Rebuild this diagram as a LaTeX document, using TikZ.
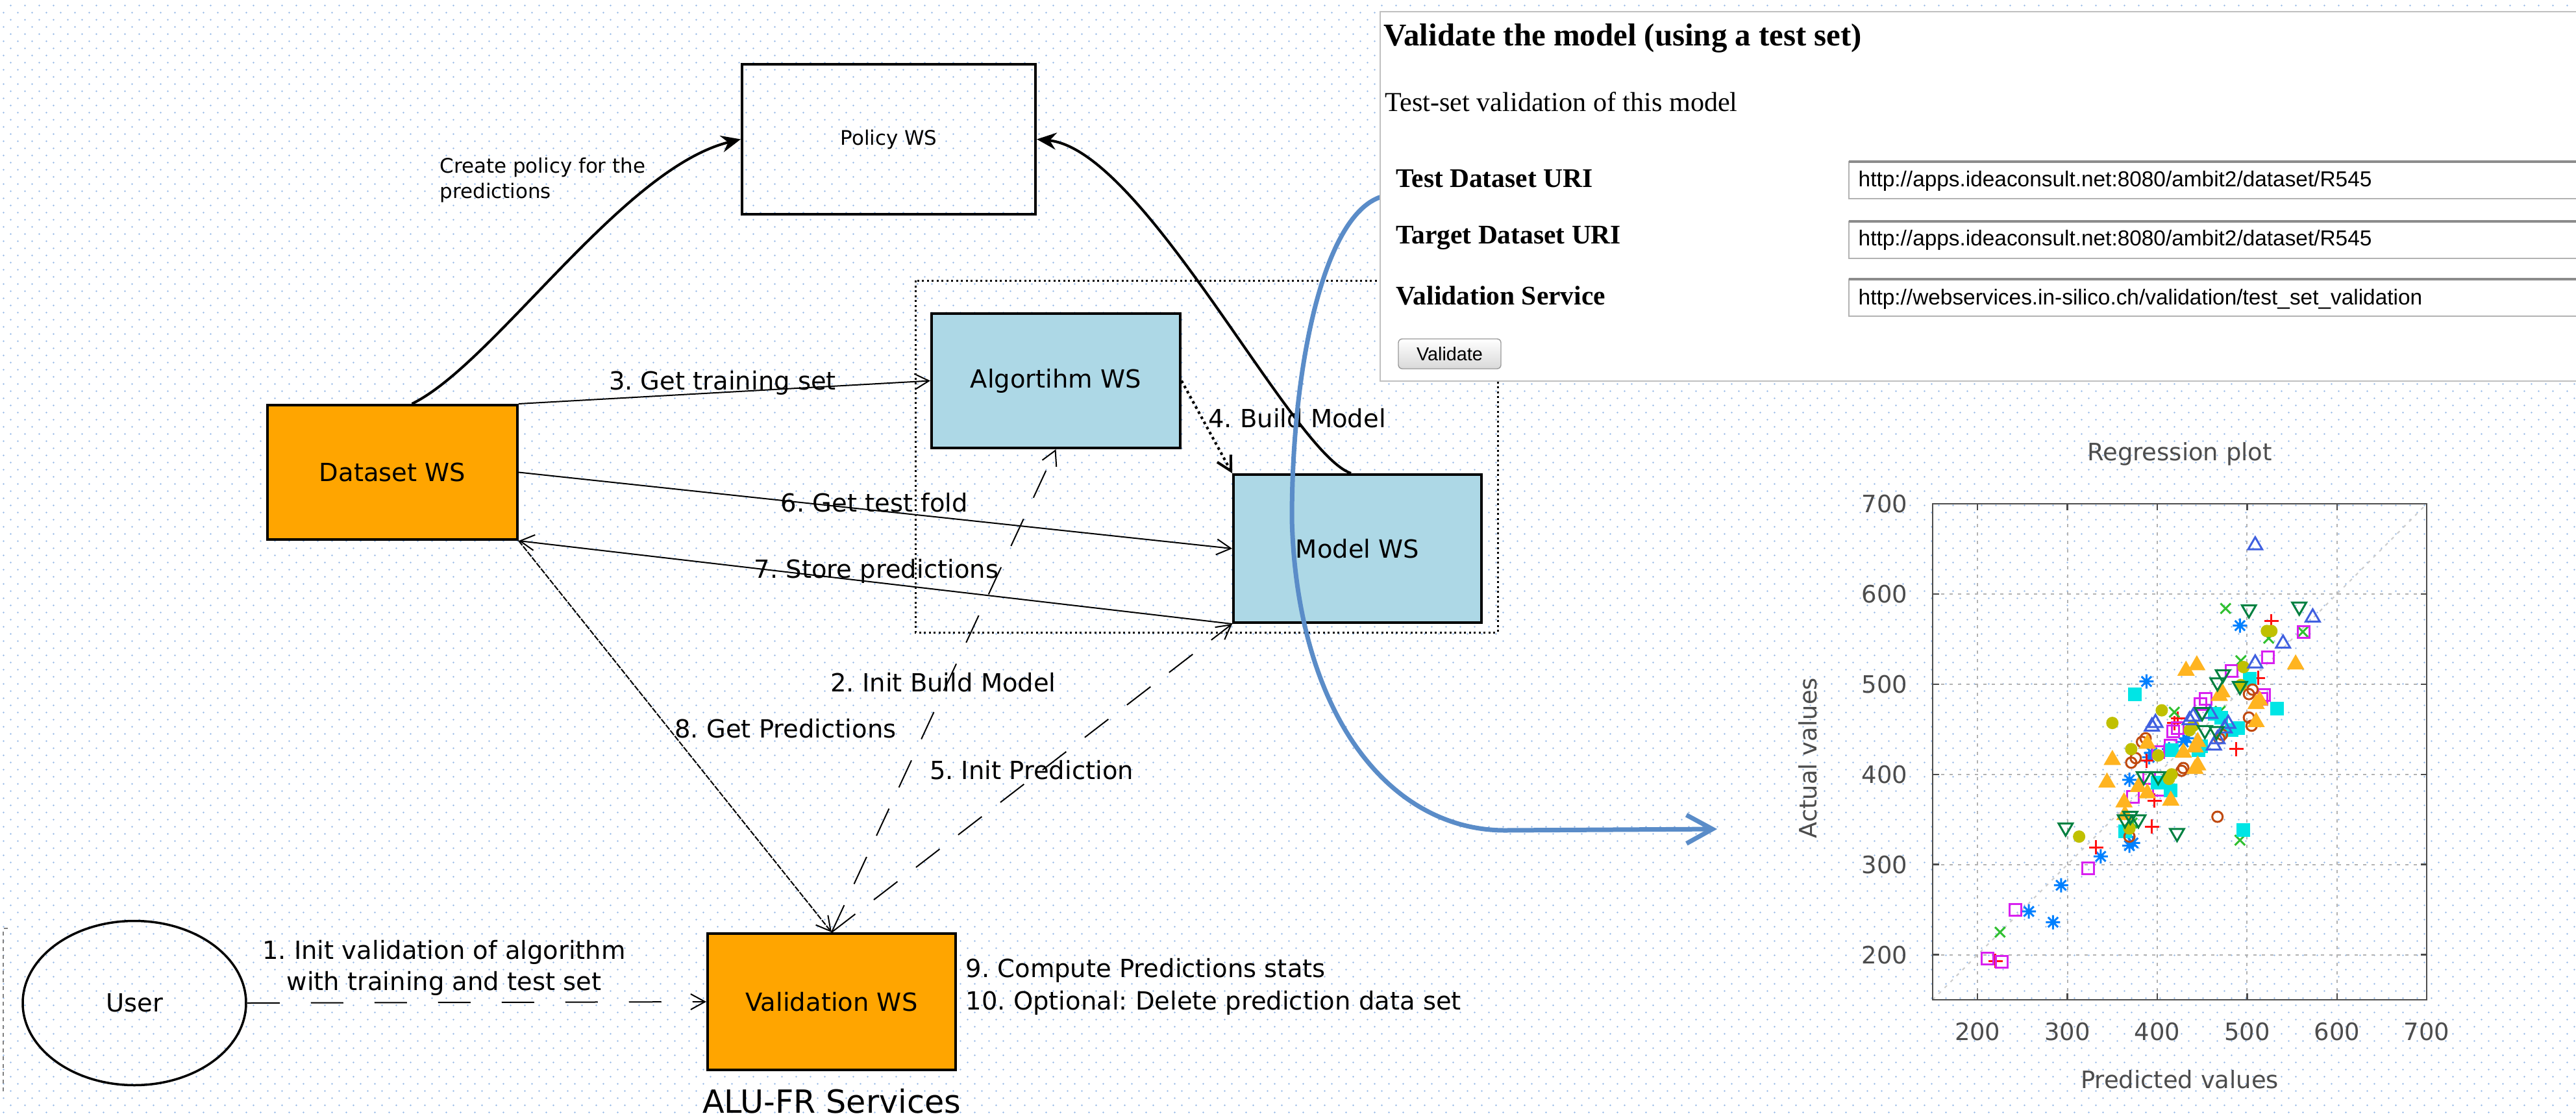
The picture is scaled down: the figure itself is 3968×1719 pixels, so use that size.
\documentclass[tikz,border=0pt]{standalone}
\usepackage{fontspec}
\usepackage{tikz}
\usetikzlibrary{arrows.meta,positioning,shapes.geometric,patterns.meta,plotmarks}
\newfontfamily\diafont{DejaVu Sans}
\newfontfamily\webfont{Liberation Serif}
\newfontfamily\uifont{Liberation Sans}
\frenchspacing
\definecolor{dotblue}{HTML}{9BBDE8}
\definecolor{wsfillorange}{HTML}{FFA500}
\definecolor{wsfillblue}{HTML}{ADD8E6}
\definecolor{flowblue}{HTML}{5A8CC8}
\definecolor{ptred}{HTML}{FF1010}
\definecolor{ptgreen}{HTML}{30C030}
\definecolor{ptblue}{HTML}{0080FF}
\definecolor{ptmagenta}{HTML}{D820F0}
\definecolor{ptcyan}{HTML}{00E5E5}
\definecolor{ptbrown}{HTML}{C04A10}
\definecolor{ptolive}{HTML}{C0C000}
\definecolor{ptorange}{HTML}{FFB420}
\definecolor{ptnavy}{HTML}{4060E0}
\definecolor{ptdkgreen}{HTML}{008040}
\newcommand{\wsfont}{\diafont\fontsize{10.95}{13}\selectfont}
\newcommand{\smallwsfont}{\diafont\fontsize{8.8}{11.1}\selectfont}
\newcommand{\groupfont}{\diafont\fontsize{14}{16}\selectfont}
\newcommand{\plotfont}{\diafont\fontsize{10.5}{12}\selectfont}
\pgfdeclareplotmark{gpstar}{%
  \pgfpathmoveto{\pgfqpoint{-\pgfplotmarksize}{0pt}}%
  \pgfpathlineto{\pgfqpoint{\pgfplotmarksize}{0pt}}%
  \pgfpathmoveto{\pgfqpoint{0pt}{-\pgfplotmarksize}}%
  \pgfpathlineto{\pgfqpoint{0pt}{\pgfplotmarksize}}%
  \pgfpathmoveto{\pgfqpoint{-.7\pgfplotmarksize}{-.7\pgfplotmarksize}}%
  \pgfpathlineto{\pgfqpoint{.7\pgfplotmarksize}{.7\pgfplotmarksize}}%
  \pgfpathmoveto{\pgfqpoint{-.7\pgfplotmarksize}{.7\pgfplotmarksize}}%
  \pgfpathlineto{\pgfqpoint{.7\pgfplotmarksize}{-.7\pgfplotmarksize}}%
  \pgfusepathqstroke}
\tikzdeclarepattern{
  name=bgdots,
  type=colored,
  bottom left={(0mm,0mm)},
  top right={(2.2mm,2.2mm)},
  tile size={(2.2mm,2.2mm)},
  code={
    \fill[dotblue] (0.55mm,0.55mm) circle[radius=0.13mm];
    \fill[dotblue] (1.65mm,1.65mm) circle[radius=0.13mm];
  }
}

\begin{document}
\begin{tikzpicture}[x=0.1mm, y=-0.1mm,
  ws/.style={draw, line width=0.4mm, font=\wsfont, inner sep=0},
  wsorange/.style={ws, fill=wsfillorange},
  wsblue/.style={ws, fill=wsfillblue},
  msg/.style={font=\wsfont, inner sep=0},
  call/.style={line width=0.2mm, -{Straight Barb[length=2.2mm,width=2.4mm]}},
  longdash/.style={dash pattern=on 4.6mm off 3.6mm},
  finedash/.style={dash pattern=on 0.9mm off 0.2mm},
  dotcall/.style={call, line width=0.4mm, dash pattern=on 0.4mm off 0.5mm},
  policyarr/.style={line width=0.4mm, -{Stealth[length=3mm,width=2.6mm,inset=1mm]}},
  flowarr/.style={line width=0.7mm, draw=flowblue, line cap=round, -{Straight Barb[length=4mm,width=4.4mm]}},
  webtitle/.style={anchor=west, inner sep=0, font=\webfont\bfseries\fontsize{13.9}{16}\selectfont},
  webtext/.style={anchor=west, inner sep=0, font=\webfont\fontsize{12}{14}\selectfont},
  weblabel/.style={anchor=west, inner sep=0, font=\webfont\bfseries\fontsize{11.8}{14}\selectfont},
  field/.style={draw=black!30, fill=white, line width=0.25mm},
  urltext/.style={anchor=west, inner sep=0, font=\uifont\fontsize{9.5}{11}\selectfont},
  button/.style={draw=black!40, rounded corners=0.6mm, top color=white, bottom color=black!15, minimum width=15.8mm, minimum height=4.6mm, inner sep=0, font=\uifont\fontsize{8.2}{9}\selectfont},
  plotgrid/.style={draw=black!30, line width=0.2mm, dash pattern=on 0.5mm off 0.8mm},
  plotframe/.style={draw=black!70, line width=0.25mm},
  plottext/.style={font=\plotfont, text=black!70, inner sep=0},
  mk/.style={line width=0.3mm}
]
  \useasboundingbox (0,0) rectangle (3968,1719);
  \fill[white] (0,0) rectangle (3968,1719);
  \fill[pattern=bgdots] (0,0) rectangle (3968,1719);

  \node[ws, minimum width=45.2mm, minimum height=23.1mm, font=\smallwsfont] (policy) at (1369,214.5) {Policy WS};
  \node[wsorange, minimum width=38.5mm, minimum height=20.7mm] (dataset) at (604.5,727.5) {Dataset WS};
  \node[wsblue, minimum width=38.3mm, minimum height=20.7mm] (algo) at (1626.5,586.5) {Algortihm WS};
  \node[wsblue, minimum width=38.2mm, minimum height=22.8mm] (model) at (2091,845) {Model WS};
  \node[wsorange, minimum width=38.2mm, minimum height=21mm] (valid) at (1281,1543) {Validation WS};
  \node[ellipse, draw, line width=0.35mm, minimum width=34.4mm, minimum height=25.3mm, font=\wsfont] (user) at (207,1545) {User};
  \node[font=\groupfont, inner sep=0, below=2.6mm of valid] (alufr) {ALU-FR Services};

  \draw[line width=0.3mm, dash pattern=on 0.3mm off 0.45mm] (1410,432) rectangle (2307,974);
  \draw[thin, black!50, dash pattern=on 0.6mm off 0.6mm] (12,1430) -- (5,1430) -- (5,1682);

  \node[msg, anchor=west, align=left, font=\smallwsfont] (lpolicy) at (677,277) {Create policy for the\\predictions};
  \node[msg] (l3) at (1113,590) {3. Get training set};
  \node[msg] (l6) at (1347,774) {6. Get test fold};
  \node[msg] (l7) at (1350,880) {7. Store predictions};
  \node[msg] (l4) at (1998,644) {4. Build Model};
  \node[msg] (l2) at (1453,1051) {2. Init Build Model};
  \node[msg] (l8) at (1210,1122) {8. Get Predictions};
  \node[msg] (l5) at (1589,1186) {5. Init Prediction};
  \node[msg, align=center, font=\diafont\fontsize{10.95}{13.66}\selectfont] (l1) at (684,1491) {1. Init validation of algorithm\\with training and test set};
  \node[msg, anchor=west, align=left, font=\diafont\fontsize{10.95}{14.2}\selectfont] (l910) at (1487,1520) {9. Compute Predictions stats\\10. Optional: Delete prediction data set};

  \draw[policyarr] ([xshift=3mm]dataset.north) .. controls +(126,-61) and +(-183,45) .. (policy.west);
  \draw[policyarr] ([xshift=-1mm]model.north) .. controls +(-91,-31) and +(165,16) .. (policy.east);
  \draw[call] (dataset.north east) -- (algo.west);
  \draw[call] (dataset.east) -- (model.west);
  \draw[call] (model.south west) -- (dataset.south east);
  \draw[call, finedash] (dataset.south east) -- (valid.north);
  \draw[call, longdash] (valid.north) -- (algo.south);
  \draw[call, longdash] (valid.north) -- (model.south west);
  \draw[dotcall] (algo.east) -- (model.north west);
  \draw[call, dash pattern=on 5mm off 4.8mm] (user.east) -- (valid.west);

  \coordinate (shotedge) at (2128,303);
  \coordinate (plotentry) at (2645,1277);
  \draw[flowarr] (shotedge) .. controls (2040,330) and (1990,560) .. (1990,800) .. controls (1998,1100) and (2140,1280) .. (2320,1279) -- (plotentry);

  \draw[draw=black!25, fill=white, line width=0.25mm] (2126,18) rectangle (3985,587);
  \node[webtitle] (shottitle) at (2131,59) {Validate the model (using a test set)};
  \node[webtext] (shotsub) at (2133,157) {Test-set validation of this model};
  \node[weblabel] (labtest) at (2150,275) {Test Dataset URI};
  \node[weblabel] (labtarget) at (2150,366) {Target Dataset URI};
  \node[weblabel] (labservice) at (2150,455) {Validation Service};
  \foreach \fy in {249,341,430} {
    \draw[field] (2848,\fy) rectangle (3985,\fy+57);
    \draw[black!45, line width=0.35mm] (2848,\fy) -- (3985,\fy);
  }
  \node[urltext] (urltest) at (2862,279) {http://apps.ideaconsult.net:8080/ambit2/dataset/R545};
  \node[urltext] (urltarget) at (2862,370) {http://apps.ideaconsult.net:8080/ambit2/dataset/R545};
  \node[urltext] (urlservice) at (2862,461) {http://webservices.in-silico.ch/validation/test\_set\_validation};
  \node[button] (validatebtn) at (2233,545) {Validate};

  \begin{scope}[shift={(2769.4,1748.35)}, x=0.1384mm, y=0.1389mm]
    \foreach \v in {200,300,...,600} {
      \draw[plotgrid] (\v,150) -- (\v,700);
      \draw[plotgrid] (150,\v) -- (700,\v);
    }
    \draw[plotgrid, draw=black!20] (150,150) -- (700,700);
    \draw[plotframe] (150,150) rectangle (700,700);
    \foreach \v in {200,300,...,700} {
      \draw[plotframe] (\v,150) -- (\v,157) (\v,700) -- (\v,693);
      \draw[plotframe] (150,\v) -- (157,\v) (700,\v) -- (693,\v);
      \node[plottext] (xtick\v) at (\v,115) {\v};
      \node[plottext, anchor=east] (ytick\v) at (122.5,\v) {\v};
    }
    \node[plottext] (ptitle) at (425,755) {Regression plot};
    \node[plottext] (pxlabel) at (425,62) {Predicted values};
    \node[plottext, rotate=90] (pylabel) at (11,418) {Actual values};

    \path[mk, draw=ptblue] plot[only marks, mark=gpstar, mark size=1.1mm] coordinates {(257,248) (284,236) (293,277) (337,309) (369,321) (373,324) (369,394) (391,419) (429,436) (388,503) (492,565) (433,440) (394,424) (413,428)};
    \path[mk, draw=ptred] plot[only marks, mark=+, mark size=1.1mm] coordinates {(220,193) (332,319) (394,342) (488,428) (419,457) (527,570) (512,507) (423,462) (397,371) (388,415)};
    \path[mk, draw=ptgreen] plot[only marks, mark=x, mark size=1.1mm] coordinates {(225,225) (492,327) (419,469) (476,584) (524,551) (493,526) (562,558) (372,346) (470,470)};
    \path[mk, draw=ptmagenta] plot[only marks, mark=square, mark size=0.9mm] coordinates {(211,196) (227,192) (242,250) (323,296) (418,448) (448,478) (516,484) (401,425) (373,375) (563,558) (523,530) (483,515) (519,488) (454,484) (423,451) (415,432) (391,396) (402,383)};
    \path[mk, draw=ptcyan, fill=ptcyan] plot[only marks, mark=square*, mark size=0.9mm] coordinates {(375,489) (496,338) (415,382) (446,427) (364,337) (483,449) (416,427) (533,473) (503,506) (490,451) (471,463) (449,431) (400,391) (464,467)};
    \path[mk, draw=ptbrown] plot[only marks, mark=o, mark size=0.8mm] coordinates {(467,353) (369,331) (371,413) (383,436) (427,404) (502,489) (502,463) (505,454) (469,440) (506,494) (472,444) (387,440) (376,418) (429,407)};
    \path[mk, draw=ptolive, fill=ptolive] plot[only marks, mark=*, mark size=0.8mm] coordinates {(313,331) (350,457) (371,428) (405,471) (401,421) (413,395) (369,340) (436,449) (522,559) (527,559) (496,519) (493,499) (440,454) (416,400)};
    \path[mk, draw=ptorange, fill=ptorange] plot[only marks, mark=triangle*, mark size=1.25mm] coordinates {(350,416) (344,391) (363,369) (415,371) (389,434) (429,424) (442,406) (442,430) (469,487) (510,478) (510,458) (379,386) (389,379) (364,355) (432,515) (444,521) (554,522) (472,491) (514,482) (445,436) (445,410)};
    \path[mk, draw=ptnavy] plot[only marks, mark=triangle, mark size=1.25mm] coordinates {(509,654) (573,574) (540,545) (509,523) (398,457) (440,464) (479,456) (467,439) (394,453) (436,460) (475,451) (463,432) (459,467)};
    \path[mk, draw=ptdkgreen] plot[only marks, mark=triangle, mark size=1.25mm, mark options={rotate=180}] coordinates {(298,341) (422,335) (364,350) (379,350) (385,398) (401,398) (502,583) (558,586) (473,511) (467,502) (492,498) (453,449) (466,448) (450,469) (370,354)};
  \end{scope}
\end{tikzpicture}
\end{document}
